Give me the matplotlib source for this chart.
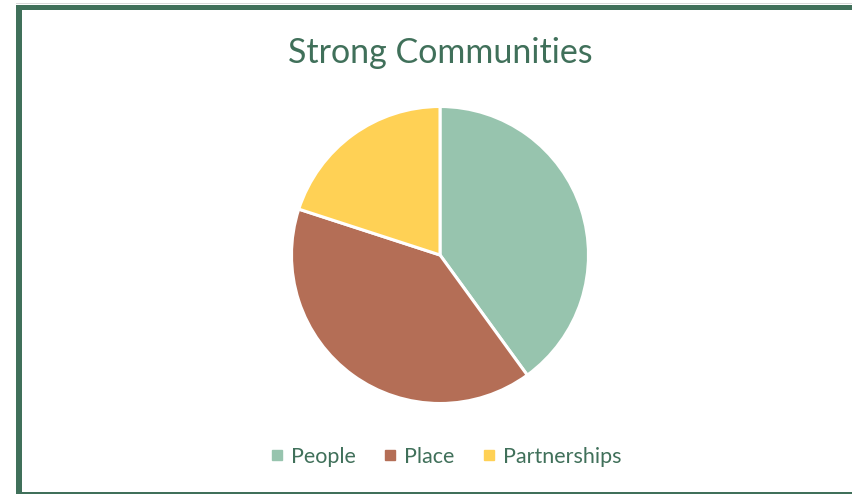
import matplotlib
matplotlib.use("Agg")
import matplotlib.pyplot as plt
from matplotlib.patches import Rectangle
from matplotlib.lines import Line2D

categories = ["People", "Place", "Partnerships"]
shares = [40, 40, 20]
colors = ["#97C4AE", "#B46E56", "#FFD155"]
title = "Strong Communities"

GREEN = "#40705A"
W, H = 852, 494
fig = plt.figure(figsize=(W / 100, H / 100), dpi=100)
plt.rcParams["font.family"] = ["Lato", "DejaVu Sans"]

def px(x, y, w, h):
    return (x / W, 1 - (y + h) / H, w / W, h / H)

# frame: thick left and top edges, thin bottom edge
for (x, y, w, h) in [(16, 5, 6, 489), (16, 5, 836, 5), (16, 492, 836, 2)]:
    l, b, ww, hh = px(x, y, w, h)
    fig.patches.append(Rectangle((l, b), ww, hh, transform=fig.transFigure,
                                 facecolor=GREEN, edgecolor="none"))
l, b, ww, hh = px(16, 3, 836, 1.5)
fig.patches.append(Rectangle((l, b), ww, hh, transform=fig.transFigure,
                             facecolor="#D9D9D9", edgecolor="none"))

# pie centred at (440, 255) with radius ~148 px
ax = fig.add_axes(px(290, 105, 300, 300))
ax.pie(shares, colors=colors, startangle=90, counterclock=False, radius=0.99,
       wedgeprops=dict(edgecolor="white", linewidth=2.2))
ax.set_xlim(-1, 1)
ax.set_ylim(-1, 1)
ax.set_aspect("equal")
ax.axis("off")

fig.text(440 / W, 1 - 53 / H, title, ha="center", va="center",
         fontsize=24.5, color=GREEN)

handles = [Line2D([], [], marker="s", linestyle="none", markersize=7,
                  markerfacecolor=c, markeredgecolor=c) for c in colors]
fig.legend(handles, categories, loc="center", bbox_to_anchor=(446 / W, 1 - 457 / H),
           ncol=3, frameon=False, fontsize=15.5, labelcolor=GREEN,
           handlelength=0.6, handletextpad=0.35, columnspacing=1.3)

fig.savefig("out.png", dpi=100, facecolor="white")
